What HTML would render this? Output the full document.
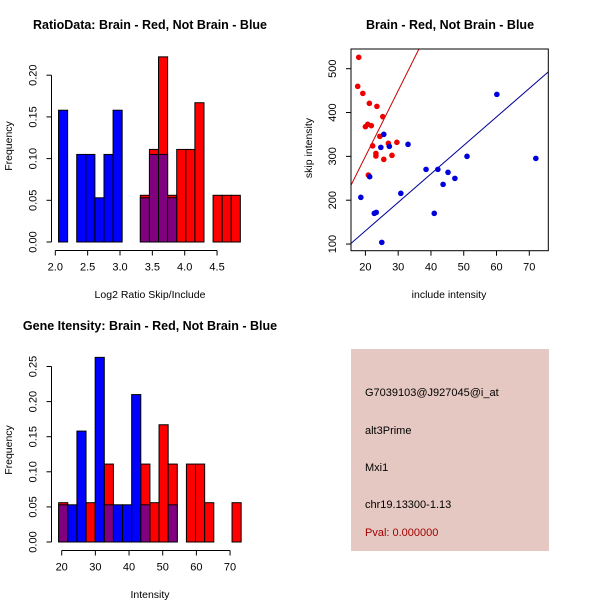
<!DOCTYPE html>
<html><head><meta charset="utf-8"><style>
body{margin:0;background:#fff}
svg{display:block;font-family:"Liberation Sans",sans-serif}
</style></head><body>
<svg id="s" width="600" height="600" xmlns="http://www.w3.org/2000/svg">
<rect width="600" height="600" fill="#fff"/>
<text x="150" y="29" text-anchor="middle" font-size="12.5" font-weight="bold">RatioData: Brain - Red, Not Brain - Blue</text>
<text x="450" y="29" text-anchor="middle" font-size="12.5" font-weight="bold">Brain - Red, Not Brain - Blue</text>
<text x="150" y="330" text-anchor="middle" font-size="12.5" font-weight="bold">Gene Itensity: Brain - Red, Not Brain - Blue</text>
<text x="150" y="298" text-anchor="middle" font-size="10.5">Log2 Ratio Skip/Include</text>
<text x="12" y="146" text-anchor="middle" font-size="10.5" transform="rotate(-90 12 146)">Frequency</text>
<text x="449" y="298" text-anchor="middle" font-size="10.5">include intensity</text>
<text x="312" y="148" text-anchor="middle" font-size="10.5" transform="rotate(-90 312 148)">skip intensity</text>
<text x="150" y="598" text-anchor="middle" font-size="10.5">Intensity</text>
<text x="12" y="450" text-anchor="middle" font-size="10.5" transform="rotate(-90 12 450)">Frequency</text>
<g>
<rect x="351" y="349" width="198" height="202" fill="#e6c8c2"/>
<text x="365" y="396" font-size="11">G7039103@J927045@i_at</text>
<text x="365" y="434" font-size="11">alt3Prime</text>
<text x="365" y="471" font-size="11">Mxi1</text>
<text x="365" y="508" font-size="11">chr19.13300-1.13</text>
<text x="365" y="536" font-size="11" fill="#a00000">Pval: 0.000000</text>
</g>
<g id="g1"></g>
<g id="g2"></g>
<g id="g3"></g>
</svg>
<script>
// Ratio histogram data
const ratioBinStart = 2.05;
const ratioBinWidth = 0.1405;
const ratioRed  = [0,0,0,0,0,0,0,0,0,0.056,0.111,0.222,0.056,0.111,0.111,0.167,0,0.056,0.056,0.056];
const ratioBlue = [0.158,0,0.105,0.105,0.053,0.105,0.158,0,0,0.053,0.105,0.105,0.053,0,0,0,0,0,0,0];
const ratioXTicks = [2.0,2.5,3.0,3.5,4.0,4.5];
const ratioYTicks = [0.00,0.05,0.10,0.15,0.20];
// Intensity histogram data
const intBinStart = 19.1;
const intBinWidth = 2.71;
const intRed  = [0.056,0,0,0.056,0,0.111,0,0,0,0.111,0.056,0.167,0.111,0,0.111,0.111,0.056,0,0,0.056];
const intBlue = [0.053,0.053,0.158,0,0.263,0.053,0.053,0.053,0.21,0.053,0,0,0.053,0,0,0,0,0,0,0];
const intXTicks = [20,30,40,50,60,70];
const intYTicks = [0.00,0.05,0.10,0.15,0.20,0.25];
// Scatter data
const redX = [17.96,17.65,19.2,21.2,23.5,20,20.7,21.8,25.3,24.4,22.2,27,29.6,23.2,23.2,28.1,25.6,20.9];
const redY = [525.9,459.7,443.7,420.9,414,367.7,373,370,390.5,345.6,324,329.7,332,306.8,300.8,302.3,293.2,257.4];
const blueX = [18.6,21.3,22.7,23.3,25,25.6,24.7,27.3,33,30.8,38.5,41,42.1,43.7,45.2,47.3,51,60.1,72];
const blueY = [206.5,253.6,170,172.2,103.8,350.2,320.5,322.8,327.4,215.6,270.3,170,270.3,236.1,263.5,249.8,300,441.4,295.4];
const redSlope = 15.0;
const blueSlope = 6.5;
const scXTicks = [20,30,40,50,60,70];
const scYTicks = [100,200,300,400,500];

const NS="http://www.w3.org/2000/svg";
function mk(p,tag,attrs){const e=document.createElementNS(NS,tag);for(const k in attrs)e.setAttribute(k,attrs[k]);p.appendChild(e);return e;}

function hist(g,o){
  const sx=v=>o.px0+(v-o.x0)*o.kx, sy=v=>o.py0-v*o.ky;
  const n=o.red.length;
  for(let i=0;i<n;i++){
    const a=o.bs+i*o.bw,b=a+o.bw;
    if(o.red[i]>0){const r=mk(g,'rect',{x:sx(a),y:sy(o.red[i]),width:sx(b)-sx(a),height:o.red[i]*o.ky,fill:'#ff0000',stroke:'#000','stroke-width':1});
      
      }
  }
  for(let i=0;i<n;i++){
    const a=o.bs+i*o.bw,b=a+o.bw;
    if(o.blue[i]>0){const r=mk(g,'rect',{x:sx(a),y:sy(o.blue[i]),width:sx(b)-sx(a),height:o.blue[i]*o.ky,fill:o.red[i]>0?'#800080':'#0000ff',stroke:'#000','stroke-width':1});
      
      }
  }
  const xa=o.xt[0],xb=o.xt[o.xt.length-1];
  mk(g,'line',{x1:sx(xa),x2:sx(xb),y1:o.axY,y2:o.axY,stroke:'#000'});
  o.xt.forEach(t=>{mk(g,'line',{x1:sx(t),x2:sx(t),y1:o.axY,y2:o.axY+5,stroke:'#000'});
    const tx=mk(g,'text',{x:sx(t),y:o.axY+20,'text-anchor':'middle','font-size':11});tx.textContent=o.xf(t);
    
    });
  const ya=o.yt[0],yb=o.yt[o.yt.length-1];
  mk(g,'line',{x1:o.axX,x2:o.axX,y1:sy(ya),y2:sy(yb),stroke:'#000'});
  o.yt.forEach(t=>{mk(g,'line',{x1:o.axX,x2:o.axX-5,y1:sy(t),y2:sy(t),stroke:'#000'});
    const tx=mk(g,'text',{x:o.axX-15,y:sy(t),'text-anchor':'middle','font-size':11,transform:`rotate(-90 ${o.axX-15} ${sy(t)})`});tx.textContent=t.toFixed(2);
    
    });
}
hist(document.getElementById('g1'),{red:ratioRed,blue:ratioBlue,bs:ratioBinStart,bw:ratioBinWidth,x0:2.0,px0:55.3,kx:64.7,py0:242,ky:834,axY:250.5,axX:51.5,xt:ratioXTicks,yt:ratioYTicks,xf:t=>t.toFixed(1)});
hist(document.getElementById('g3'),{red:intRed,blue:intBlue,bs:intBinStart,bw:intBinWidth,x0:20,px0:61.7,kx:3.367,py0:542,ky:702,axY:550.5,axX:51.5,xt:intXTicks,yt:intYTicks,xf:t=>String(t)});

(function(){
  const g=document.getElementById('g2');
  const x0=15.6,x1=75.8,y0=84.8,y1=544.9,L=351,R=548.3,T=49,B=250.7;
  const sx=v=>L+(v-x0)/(x1-x0)*(R-L), sy=v=>B-(v-y0)/(y1-y0)*(B-T);
  mk(g,'defs',{}).innerHTML='<clipPath id="cp"><rect x="'+L+'" y="'+T+'" width="'+(R-L)+'" height="'+(B-T)+'"/></clipPath>';
  const rl=mk(g,'line',{x1:sx(x0),y1:sy(redSlope*x0),x2:sx(x1),y2:sy(redSlope*x1),stroke:'#cc0000','clip-path':'url(#cp)'});
  
  
  const bl=mk(g,'line',{x1:sx(x0),y1:sy(blueSlope*x0),x2:sx(x1),y2:sy(blueSlope*x1),stroke:'#000099','clip-path':'url(#cp)'});
  
  
  redX.forEach((x,i)=>{const c=mk(g,'circle',{cx:sx(x),cy:sy(redY[i]),r:2.8,fill:'#ee0000'});
    
    });
  blueX.forEach((x,i)=>{const c=mk(g,'circle',{cx:sx(x),cy:sy(blueY[i]),r:2.8,fill:'#0000dd'});
    
    });
  mk(g,'rect',{x:L,y:T,width:R-L,height:B-T,fill:'none',stroke:'#000'});
  scXTicks.forEach(t=>{mk(g,'line',{x1:sx(t),x2:sx(t),y1:B,y2:B+5,stroke:'#000'});
    const tx=mk(g,'text',{x:sx(t),y:B+20,'text-anchor':'middle','font-size':11});tx.textContent=t;
    
    });
  scYTicks.forEach(t=>{mk(g,'line',{x1:L,x2:L-5,y1:sy(t),y2:sy(t),stroke:'#000'});
    const tx=mk(g,'text',{x:L-15,y:sy(t),'text-anchor':'middle','font-size':11,transform:`rotate(-90 ${L-15} ${sy(t)})`});tx.textContent=t;
    
    });
})();
</script>
</body></html>
